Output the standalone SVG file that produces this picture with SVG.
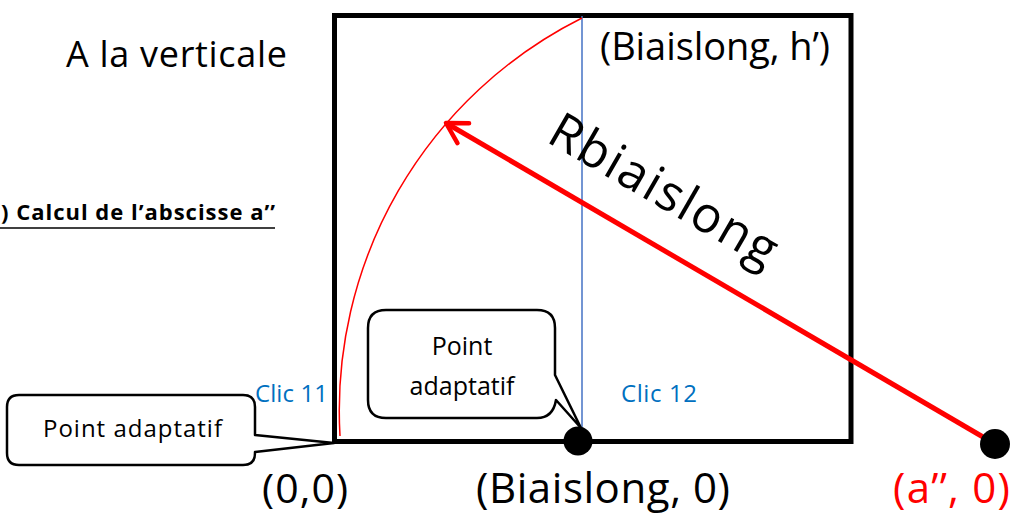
<svg xmlns="http://www.w3.org/2000/svg" width="1011" height="513" viewBox="0 0 1011 513">
<defs>
<style>
.t{font-family:"Open Sans","Noto Sans","Liberation Sans",sans-serif;fill:#000}
.blue{fill:#0070C0}
.callout{fill:#fff;stroke:#000;stroke-width:2.5;stroke-linejoin:round}
.dot{fill:#000}
</style>
<marker id="chev" markerUnits="userSpaceOnUse" markerWidth="40" markerHeight="40" viewBox="-30 -20 40 40" refX="0" refY="0" orient="auto">
<path d="M -20 -11.5 L 0 0 L -20 11.5" fill="none" stroke="#FF0000" stroke-width="4.5" stroke-linecap="round" stroke-linejoin="round"/>
</marker>
</defs>
<rect width="1011" height="513" fill="#fff"/>

<g id="frame">
<rect x="334.5" y="15.5" width="516.5" height="426" fill="none" stroke="#000" stroke-width="5"/>
</g>

<g id="connectors">
<line x1="582" y1="16" x2="582" y2="440" stroke="#4472C4" stroke-width="1.5"/>
<path d="M 340 436 A 439 439 0 0 1 582 18" fill="none" stroke="#FF0000" stroke-width="1.5"/>
<line x1="995" y1="444" x2="446" y2="123" stroke="#FF0000" stroke-width="5" marker-end="url(#chev)"/>
</g>

<g id="callout-origin">
<path class="callout" d="M 19 395 H 243 Q 255 395 255 407 V 435 L 334 443 L 255 452 V 453 Q 255 465 243 465 H 19 Q 7 465 7 453 V 407 Q 7 395 19 395 Z"/>
<text class="t" x="43" y="437" font-size="24" textLength="179">Point adaptatif</text>
</g>

<g id="callout-biaislong">
<path class="callout" d="M 386 310 H 537 Q 555 310 555 328 V 375 L 581 428 L 556 400 Q 553 418 537 418 H 386 Q 368 418 368 400 V 328 Q 368 310 386 310 Z"/>
<text class="t" x="462" y="355" font-size="25" text-anchor="middle">Point</text>
<text class="t" x="462" y="395" font-size="25" text-anchor="middle">adaptatif</text>
</g>

<g id="point-biaislong">
<circle class="dot" cx="578" cy="441" r="14.5"/>
</g>
<g id="point-a">
<circle class="dot" cx="995" cy="444" r="15"/>
</g>

<g id="labels">
<text class="t" x="66" y="67" font-size="36" textLength="221">A la verticale</text>
<text class="t" x="600" y="60" font-size="38" textLength="230">(Biaislong, h’)</text>
<text class="t" transform="translate(545,141) rotate(30)" font-size="50" textLength="255">Rbiaislong</text>
<text class="t" x="1" y="220" font-size="22" font-weight="bold" textLength="274">) Calcul de l’abscisse a’’</text>
<line x1="0" y1="228" x2="275" y2="228" stroke="#000" stroke-width="1.5"/>
<text class="t blue" x="255" y="402" font-size="24" textLength="73">Clic 11</text>
<text class="t blue" x="621" y="402" font-size="24" textLength="76">Clic 12</text>
<text class="t" x="262" y="503" font-size="41" textLength="86">(0,0)</text>
<text class="t" x="476" y="503" font-size="42" textLength="254">(Biaislong, 0)</text>
<text class="t" x="893" y="503" font-size="42" textLength="117" style="fill:#FF0000">(a’’, 0)</text>
</g>
</svg>
